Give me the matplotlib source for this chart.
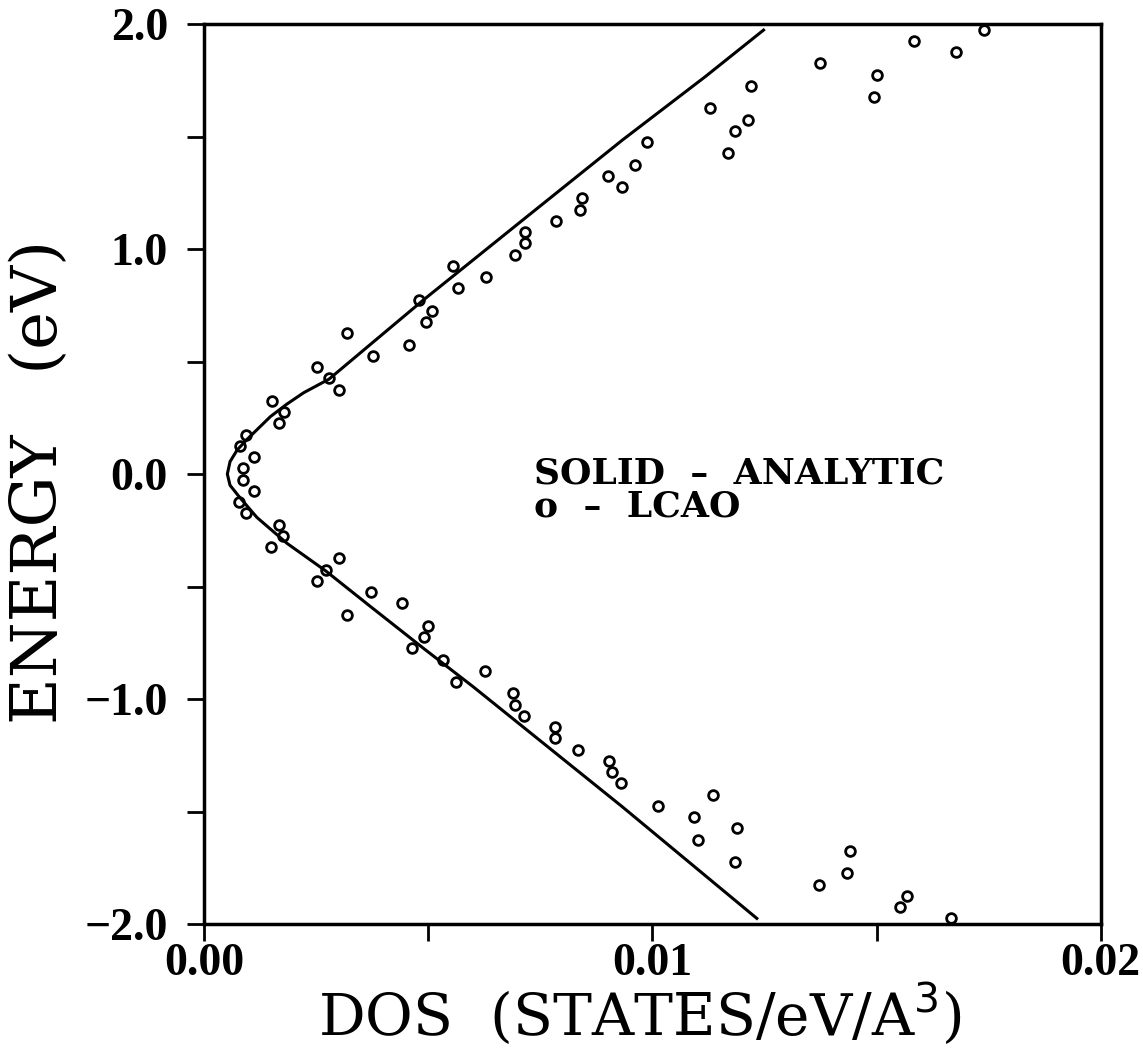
import numpy as np
import matplotlib
matplotlib.use("Agg")
import matplotlib.pyplot as plt

### DATA ###
# LCAO points, one per energy level (eV), DOS in states/eV/A^3
lcao_energy = [0.025, 0.075, 0.125, 0.175, 0.225, 0.275, 0.325, 0.375, 0.425, 0.475,
               0.525, 0.575, 0.625, 0.675, 0.725, 0.775, 0.825, 0.875, 0.925, 0.975,
               1.025, 1.075, 1.125, 1.175, 1.225, 1.275, 1.325, 1.375, 1.425, 1.475,
               1.525, 1.575, 1.625, 1.675, 1.725, 1.775, 1.825, 1.875, 1.925, 1.975,
               -0.025, -0.075, -0.125, -0.175, -0.225, -0.275, -0.325, -0.375, -0.425, -0.475,
               -0.525, -0.575, -0.625, -0.675, -0.725, -0.775, -0.825, -0.875, -0.925, -0.975,
               -1.025, -1.075, -1.125, -1.175, -1.225, -1.275, -1.325, -1.375, -1.425, -1.475,
               -1.525, -1.575, -1.625, -1.675, -1.725, -1.775, -1.825, -1.875, -1.925, -1.975]
lcao_dos = [0.00087, 0.00111, 0.00080, 0.00093, 0.00167, 0.00178, 0.00151, 0.00302, 0.00278, 0.00251,
            0.00376, 0.00458, 0.00320, 0.00496, 0.00509, 0.00480, 0.00566, 0.00628, 0.00556, 0.00693,
            0.00717, 0.00717, 0.00784, 0.00838, 0.00844, 0.00933, 0.00902, 0.00961, 0.01168, 0.00989,
            0.01184, 0.01214, 0.01128, 0.01495, 0.01219, 0.01500, 0.01375, 0.01677, 0.01584, 0.01739,
            0.00087, 0.00111, 0.00078, 0.00093, 0.00167, 0.00176, 0.00149, 0.00300, 0.00271, 0.00251,
            0.00373, 0.00442, 0.00318, 0.00500, 0.00491, 0.00464, 0.00533, 0.00626, 0.00561, 0.00689,
            0.00693, 0.00713, 0.00782, 0.00782, 0.00835, 0.00904, 0.00910, 0.00931, 0.01135, 0.01013,
            0.01093, 0.01189, 0.01102, 0.01441, 0.01184, 0.01434, 0.01372, 0.01567, 0.01553, 0.01666]

# analytic curve, points
analytic_dos = [0.01233, 0.00933, 0.00711, 0.00600, 0.00489, 0.00370, 0.00271, 0.00185, 0.00118,
                0.00078, 0.00058, 0.00052, 0.00058, 0.00074, 0.00096, 0.00148, 0.00185, 0.00222,
                0.00279, 0.00489, 0.00711, 0.00933, 0.01118, 0.01248]
analytic_energy = [-1.975, -1.479, -1.123, -0.945, -0.774, -0.587, -0.430, -0.308, -0.193,
                   -0.100, -0.050, 0.0, 0.055, 0.107, 0.154, 0.255, 0.311, 0.361,
                   0.422, 0.773, 1.129, 1.484, 1.766, 1.973]

x_ticks = [0.0, 0.01, 0.02]
x_ticklabels = ['0.00', '0.01', '0.02']
x_minor = [0.005, 0.015]
y_ticks = [-2.0, -1.0, 0.0, 1.0, 2.0]
y_ticklabels = ['\u22122.0', '\u22121.0', '0.0', '1.0', '2.0']
y_minor = [-1.5, -0.5, 0.5, 1.5]

plt.rcParams['font.family'] = ['DejaVu Serif']

fig = plt.figure(figsize=(11.43, 10.48), dpi=100, facecolor='w')
ax = fig.add_axes([0.1785, 0.1183, 0.7845, 0.8588])

ax.plot(analytic_dos, analytic_energy, color='black', linewidth=2.2)
ax.plot(lcao_dos, lcao_energy, linestyle='none', marker='o', markersize=7,
        markerfacecolor='none', markeredgecolor='black', markeredgewidth=2.0)

ax.set_xlim(0.0, 0.02)
ax.set_ylim(-2.0, 2.0)
ax.set_xticks(x_ticks)
ax.set_xticklabels(x_ticklabels)
ax.set_xticks(x_minor, minor=True)
ax.set_yticks(y_ticks)
ax.set_yticklabels(y_ticklabels)
ax.set_yticks(y_minor, minor=True)

ax.tick_params(which='both', direction='out', width=2, length=12)
ax.tick_params(axis='x', pad=2)
ax.tick_params(axis='y', pad=14)
for lab in ax.get_xticklabels() + ax.get_yticklabels():
    lab.set_fontfamily('Liberation Serif')
    lab.set_fontweight('bold')
    lab.set_fontsize(33)
for s in ax.spines.values():
    s.set_linewidth(2.5)

ax.set_xlabel('DOS  (STATES/eV/A$^3$)', fontsize=42)
ax.xaxis.set_label_coords(0.486, -0.1235)
ax.xaxis.label.set_va('baseline')
ax.set_ylabel('ENERGY   (eV)', fontsize=46)
ax.yaxis.set_label_coords(-0.183, 0.491)
ax.yaxis.label.set_va('center')

ax.text(0.00735, -0.04, 'SOLID  \u2013  ANALYTIC', fontsize=26, fontweight='bold',
        va='baseline', ha='left')
ax.text(0.00735, -0.187, 'o  \u2013  LCAO', fontsize=26, fontweight='bold',
        va='baseline', ha='left')

plt.savefig('out.png', dpi=100)
